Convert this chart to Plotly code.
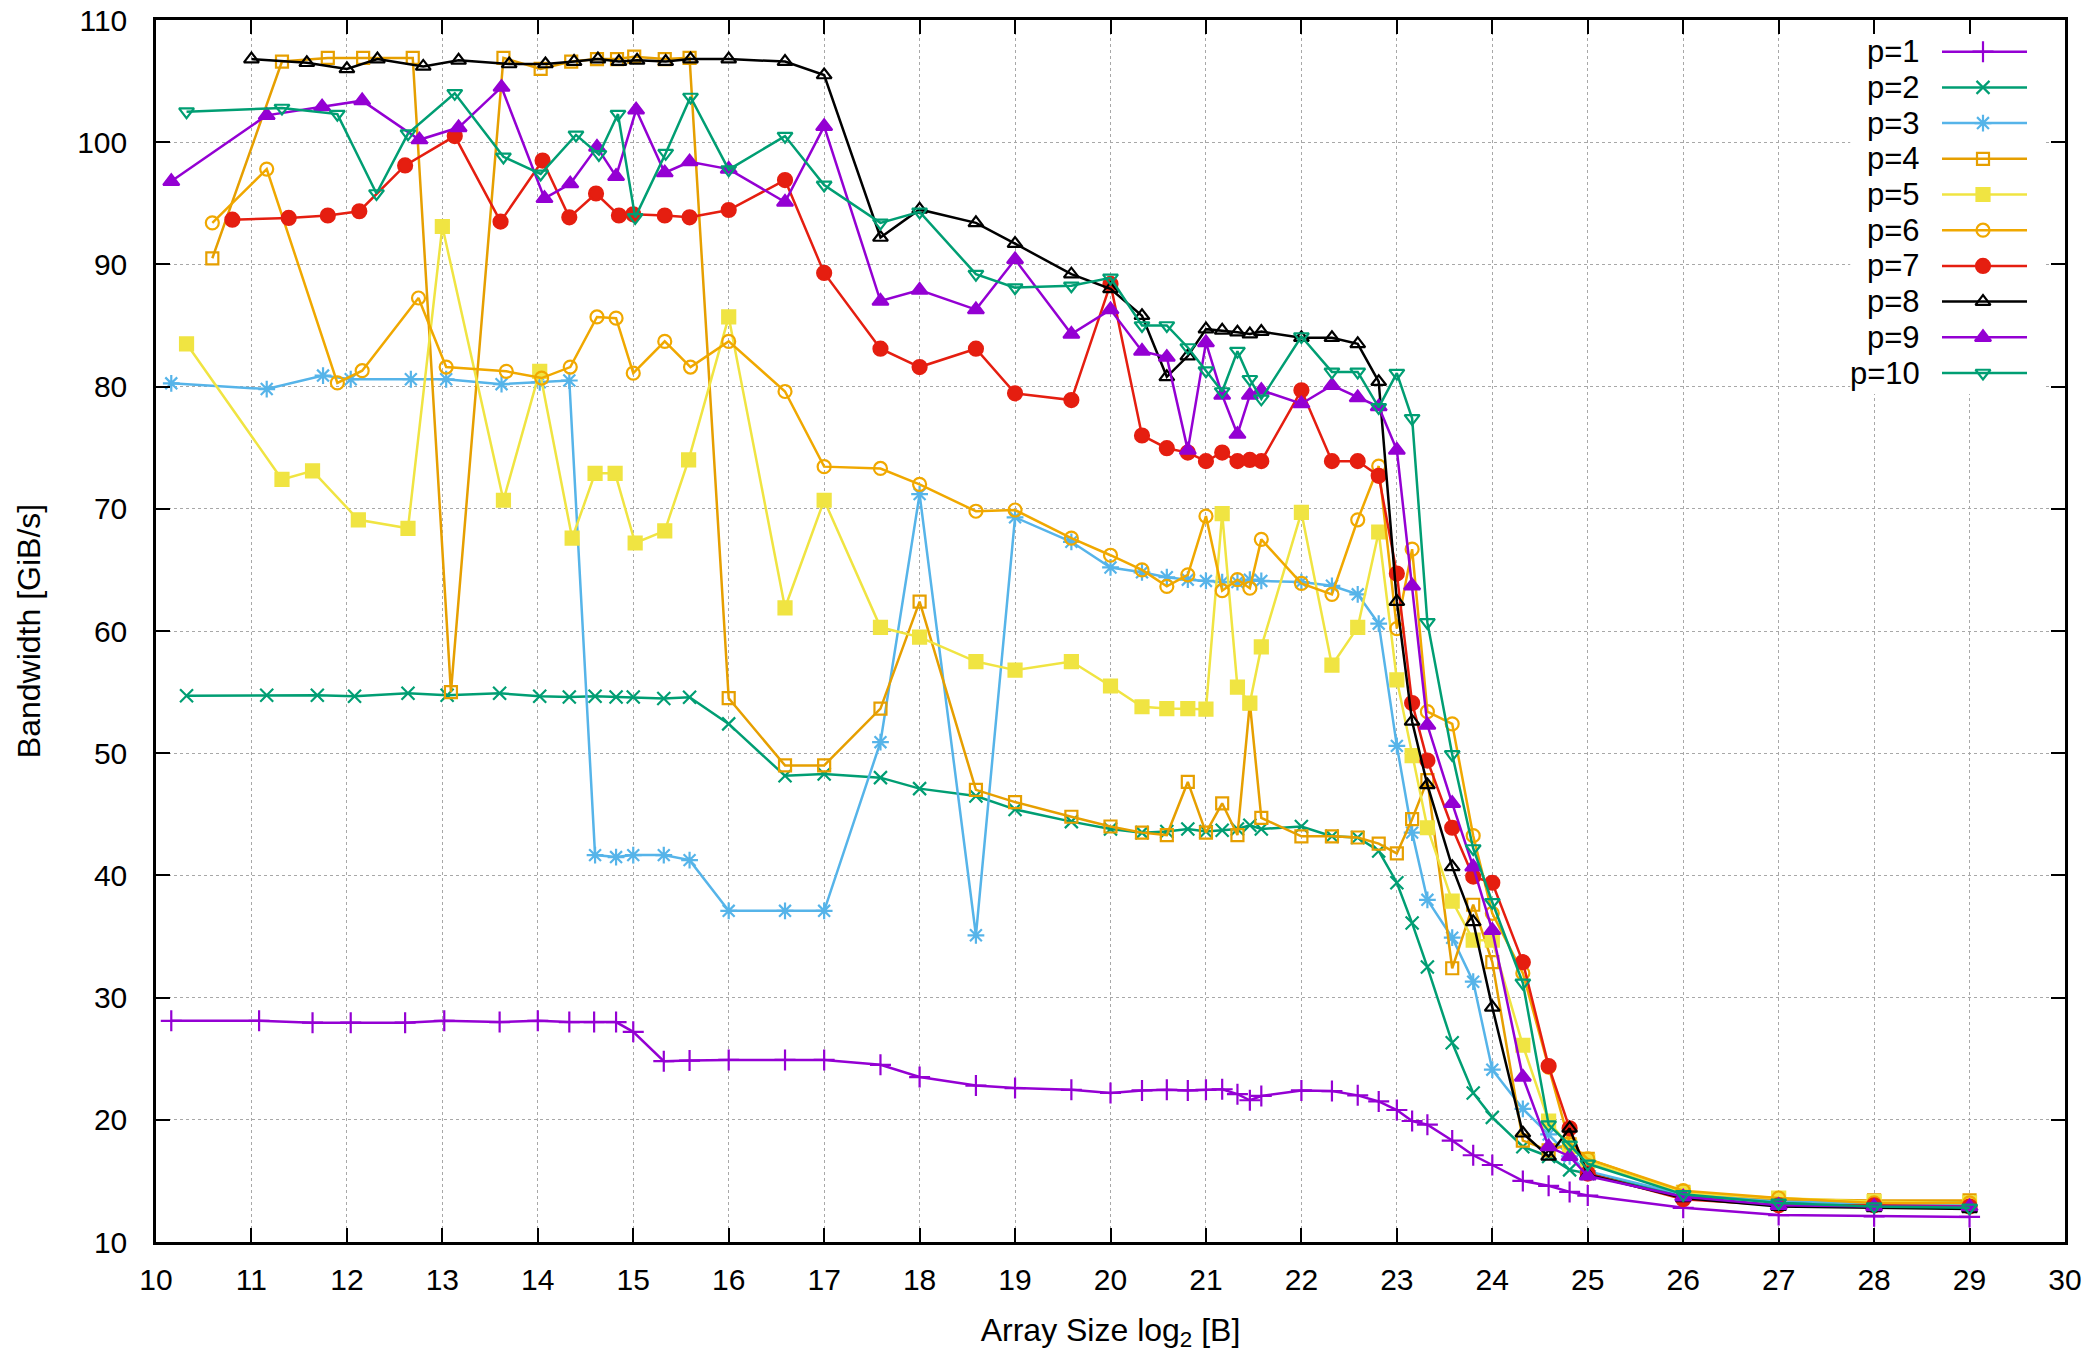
import plotly.graph_objects as go

# ---------------- data ----------------
X_TAIL = [16.0, 16.59, 17.0, 17.59, 18.0, 18.59, 19.0, 19.59, 20.0, 20.33,
          20.59, 20.81, 21.0, 21.17, 21.33, 21.46, 21.58, 22.0, 22.32, 22.59,
          22.81, 23.0, 23.16, 23.32, 23.58, 23.8, 24.0, 24.32, 24.59, 24.81,
          25.0, 26, 27, 28, 29]

P1_HEAD_X = [10.16, 11.08, 11.64, 12.04, 12.61, 13.02, 13.6, 14.0, 14.33, 14.59, 14.82, 15.0, 15.32, 15.59]
P2_HEAD_X = [10.32, 11.16, 11.69, 12.08, 12.64, 13.05, 13.6, 14.02, 14.33, 14.6, 14.82, 15.0, 15.32, 15.59]
P3_HEAD_X = [10.16, 11.16, 11.75, 12.04, 12.67, 13.04, 13.62, 14.02, 14.33, 14.6, 14.82, 15.0, 15.32, 15.59]
P4_HEAD_X = [10.59, 11.32, 11.8, 12.17, 12.69, 13.09, 13.64, 14.03, 14.35, 14.62, 14.83, 15.01, 15.33, 15.59]
P5_HEAD_X = [10.32, 11.32, 11.64, 12.12, 12.64, 13.0, 13.64, 14.02, 14.36, 14.6, 14.81, 15.02, 15.33, 15.58]
P6_HEAD_X = [10.59, 11.16, 11.9, 12.16, 12.75, 13.04, 13.67, 14.04, 14.34, 14.62, 14.82, 15.0, 15.33, 15.6]
P7_HEAD_X = [10.8, 11.39, 11.8, 12.13, 12.61, 13.13, 13.61, 14.05, 14.33, 14.61, 14.85, 15.0, 15.33, 15.59]
P8_HEAD_X = [11.0, 11.58, 12.0, 12.32, 12.8, 13.17, 13.7, 14.08, 14.38, 14.63, 14.85, 15.04, 15.34, 15.6]
P9_HEAD_X = [10.16, 11.16, 11.74, 12.16, 12.76, 13.17, 13.62, 14.07, 14.34, 14.62, 14.82, 15.03, 15.33, 15.59]
P10_HEAD_X = [10.32, 11.32, 11.9, 12.31, 12.64, 13.13, 13.64, 14.03, 14.4, 14.64, 14.84, 15.02, 15.34, 15.6]

P1_Y = [28.1, 28.1, 27.95, 27.95, 27.95, 28.1, 28.0, 28.1, 28.0, 28.0, 28.0, 27.2, 24.8, 24.85,
        24.9, 24.9, 24.9, 24.5, 23.5, 22.8, 22.6, 22.45, 22.2, 22.4,
        22.45, 22.4, 22.45, 22.5, 22.1, 21.6, 21.95, 22.4, 22.35, 22.0,
        21.5, 20.8, 19.9, 19.6, 18.3, 17.1, 16.3, 15.0, 14.6, 14.1,
        13.8, 12.8, 12.2, 12.1, 12.05]
P2_Y = [54.7, 54.74, 54.74, 54.66, 54.9, 54.74, 54.9, 54.66, 54.6, 54.66, 54.6, 54.6, 54.47, 54.58,
        52.4, 48.15, 48.3, 48.0, 47.1, 46.5, 45.4, 44.4, 43.8, 43.5,
        43.6, 43.8, 43.6, 43.7, 43.8, 44.1, 43.8, 44.0, 43.2, 43.1,
        42.0, 39.4, 36.1, 32.5, 26.3, 22.2, 20.2, 17.8, 17.0, 15.9,
        15.6, 13.8, 13.3, 13.2, 13.3]
P3_Y = [80.27, 79.8, 80.9, 80.6, 80.6, 80.6, 80.2, 80.35, 80.5, 41.66, 41.5, 41.66, 41.66, 41.25,
        37.1, 37.1, 37.1, 50.9, 71.2, 35.1, 69.3, 67.3, 65.2, 64.8,
        64.4, 64.2, 64.1, 64.0, 64.0, 64.2, 64.1, 64.0, 63.7, 63.0,
        60.6, 50.6, 43.5, 38.0, 34.9, 31.3, 24.1, 20.9, 18.8, 17.0,
        15.8, 13.9, 13.4, 13.1, 13.0]
P4_Y = [90.5, 106.6, 106.9, 106.9, 106.9, 55.0, 106.9, 106.0, 106.6, 106.8, 106.8, 107.0, 106.8, 106.9,
        54.5, 49.0, 49.0, 53.65, 62.4, 47.0, 46.0, 44.8, 44.0, 43.5,
        43.3, 47.65, 43.5, 45.9, 43.3, 54.1, 44.7, 43.2, 43.2, 43.1,
        42.6, 41.8, 44.6, 47.8, 32.4, 37.6, 32.9, 18.3, 17.5, 18.0,
        16.8, 14.1, 13.5, 13.4, 13.4]
P5_Y = [83.5, 72.4, 73.1, 69.1, 68.4, 93.1, 70.7, 81.25, 67.6, 72.9, 72.9, 67.2, 68.2, 74.0,
        85.7, 61.9, 70.7, 60.3, 59.5, 57.5, 56.8, 57.5, 55.5, 53.8,
        53.65, 53.65, 53.6, 69.6, 55.4, 54.1, 58.7, 69.7, 57.2, 60.3,
        68.1, 56.0, 49.8, 43.9, 37.9, 34.7, 34.7, 26.1, 19.9, 17.8,
        16.6, 14.0, 13.6, 13.3, 13.2]
P6_Y = [93.4, 97.8, 80.3, 81.3, 87.25, 81.6, 81.25, 80.7, 81.6, 85.7, 85.6, 81.1, 83.7, 81.6,
        83.7, 79.6, 73.45, 73.3, 72.0, 69.8, 69.9, 67.6, 66.2, 65.0,
        63.65, 64.6, 69.4, 63.3, 64.2, 63.5, 67.5, 63.9, 63.0, 69.1,
        73.5, 60.2, 66.7, 53.4, 52.4, 43.25, 36.9, 32.0, 24.3, 18.1,
        16.8, 14.2, 13.6, 13.2, 13.2]
P7_Y = [93.66, 93.8, 94.0, 94.35, 98.1, 100.5, 93.5, 98.5, 93.85, 95.8, 94.0, 94.1, 94.0, 93.85,
        94.45, 96.9, 89.3, 83.1, 81.6, 83.1, 79.45, 78.9, 88.4, 76.0,
        74.96, 74.6, 73.9, 74.6, 73.9, 74.0, 73.9, 79.7, 73.9, 73.9,
        72.7, 64.7, 54.1, 49.4, 43.9, 39.9, 39.4, 32.9, 24.4, 19.3,
        15.6, 13.5, 13.0, 13.0, 12.9]
P8_Y = [106.8, 106.5, 106.0, 106.8, 106.2, 106.7, 106.4, 106.4, 106.6, 106.8, 106.6, 106.7, 106.6, 106.8,
        106.8, 106.6, 105.5, 92.2, 94.5, 93.4, 91.7, 89.2, 88.0, 85.8,
        80.8, 82.5, 84.7, 84.6, 84.45, 84.3, 84.5, 84.0, 84.0, 83.5,
        80.4, 62.4, 52.6, 47.4, 40.7, 36.2, 29.2, 18.9, 17.0, 19.3,
        15.5, 13.6, 12.9, 12.8, 12.7]
P9_Y = [96.8, 102.2, 102.9, 103.4, 100.2, 101.2, 104.5, 95.4, 96.6, 99.6, 97.2, 102.65, 97.5, 98.4,
        97.8, 95.1, 101.3, 87.0, 87.9, 86.3, 90.4, 84.3, 86.3, 82.9,
        82.4, 74.8, 83.6, 79.3, 76.1, 79.3, 79.7, 78.6, 80.1, 79.1,
        78.35, 74.8, 63.7, 52.3, 45.9, 40.7, 35.5, 23.5, 17.8, 17.0,
        15.4, 13.7, 13.0, 12.9, 12.9]
P10_Y = [102.5, 102.8, 102.3, 95.8, 100.7, 104.0, 98.8, 97.4, 100.6, 99.0, 102.3, 93.85, 99.1, 103.7,
         97.75, 100.5, 96.5, 93.4, 94.3, 89.2, 88.1, 88.25, 88.9, 85.0,
         85.0, 83.2, 81.3, 79.6, 82.9, 80.6, 79.0, 84.1, 81.2, 81.2,
         78.3, 81.1, 77.4, 60.7, 49.9, 42.2, 37.8, 31.2, 19.6, 17.95,
         16.4, 13.9, 13.2, 12.9, 12.8]

SERIES_NAMES = ["p=1", "p=2", "p=3", "p=4", "p=5", "p=6", "p=7", "p=8", "p=9", "p=10"]
SERIES_X = [P1_HEAD_X, P2_HEAD_X, P3_HEAD_X, P4_HEAD_X, P5_HEAD_X,
            P6_HEAD_X, P7_HEAD_X, P8_HEAD_X, P9_HEAD_X, P10_HEAD_X]
SERIES_Y = [P1_Y, P2_Y, P3_Y, P4_Y, P5_Y, P6_Y, P7_Y, P8_Y, P9_Y, P10_Y]

X_TICKS = list(range(10, 31))
Y_TICKS = list(range(10, 111, 10))

# ---------------- styles ----------------
COLORS = ["#9400d3", "#009e73", "#56b4e9", "#e69f00", "#f0e442",
          "#f0a800", "#e51e10", "#000000", "#9400d3", "#009e73"]
SYMBOLS = ["cross-thin-open", "x-thin-open", "asterisk-open", "square-open", "square",
           "circle-open", "circle", "triangle-up-open", "triangle-up", "triangle-down-open"]
SIZES = [15, 13, 14, 12, 13, 13, 14, 13, 14, 13]

FONT = "Liberation Sans, Arial, sans-serif"
W, H = 2094, 1354
PL, PR, PT, PB = 156, 2065, 20, 1242   # plot-area pixel box

fig = go.Figure()

for name, hx, ys, col, sym, sz in zip(SERIES_NAMES, SERIES_X, SERIES_Y, COLORS, SYMBOLS, SIZES):
    xs = hx + X_TAIL
    fig.add_trace(go.Scatter(
        x=xs, y=ys, name=name, mode="lines+markers",
        line=dict(color=col, width=2.5),
        marker=dict(symbol=sym, size=sz, color=col, line=dict(color=col, width=2.2)),
        showlegend=False, xaxis="x", yaxis="y"))

# ---------------- gnuplot-style key (text left, sample right), pixel layout ----------------
KEY_ROW0, KEY_DY = 51.7, 35.7
KEY_LINE_X0, KEY_LINE_X1, KEY_MARK_X, KEY_TEXT_X = 1942, 2027, 1983, 1922
for i, (name, col, sym, sz) in enumerate(zip(SERIES_NAMES, COLORS, SYMBOLS, SIZES)):
    ry = KEY_ROW0 + i * KEY_DY
    fig.add_trace(go.Scatter(x=[KEY_LINE_X0, KEY_LINE_X1], y=[ry, ry], mode="lines",
                             line=dict(color=col, width=2.5), showlegend=False,
                             hoverinfo="skip", xaxis="x2", yaxis="y2"))
    fig.add_trace(go.Scatter(x=[KEY_MARK_X], y=[ry], mode="markers",
                             marker=dict(symbol=sym, size=sz, color=col, line=dict(color=col, width=2.2)),
                             showlegend=False, hoverinfo="skip", xaxis="x2", yaxis="y2"))
    fig.add_annotation(x=KEY_TEXT_X, y=ry, xref="x2", yref="y2", text=name, showarrow=False,
                       xanchor="right", yanchor="middle", font=dict(family=FONT, size=31, color="black"))

# opaque key background (hides the grid behind the key)
fig.add_shape(type="rect", xref="x", yref="y", x0=27.75, x1=29.79, y0=79.4, y1=109.9,
              fillcolor="white", line=dict(width=0), layer="between")

axis_common = dict(
    showline=True, linecolor="black", linewidth=2.5, mirror="allticks",
    ticks="inside", ticklen=14, tickwidth=2, tickcolor="black",
    showgrid=True, gridcolor="#a8a8a8", griddash="dot", gridwidth=1.3,
    zeroline=False, ticklabeloverflow="allow",
    tickfont=dict(family=FONT, size=30, color="black"),
)

fig.update_layout(
    width=W, height=H,
    margin=dict(l=PL, r=W - PR, t=PT, b=H - PB, autoexpand=False),
    paper_bgcolor="white", plot_bgcolor="white",
    font=dict(family=FONT, size=30, color="black"),
    xaxis=dict(range=[10, 30], tickvals=X_TICKS, ticklabelstandoff=9,
               title=dict(text="Array Size log<sub>2</sub> [B]", standoff=24,
                          font=dict(family=FONT, size=32)),
               **axis_common),
    yaxis=dict(range=[10, 110], tickvals=Y_TICKS, ticklabelstandoff=20,
               title=dict(text="Bandwidth [GiB/s]", standoff=27,
                          font=dict(family=FONT, size=32)),
               **axis_common),
    xaxis2=dict(range=[PL, PR], overlaying="x", visible=False, fixedrange=True),
    yaxis2=dict(range=[PB, PT], overlaying="y", visible=False, fixedrange=True),
    showlegend=False,
)

# place the figure flush with the window (no default body margin), no modebar
fig.write_html("out.html",
               config={"displayModeBar": False},
               post_script="document.body.style.margin='0px';document.body.style.overflow='hidden';")
